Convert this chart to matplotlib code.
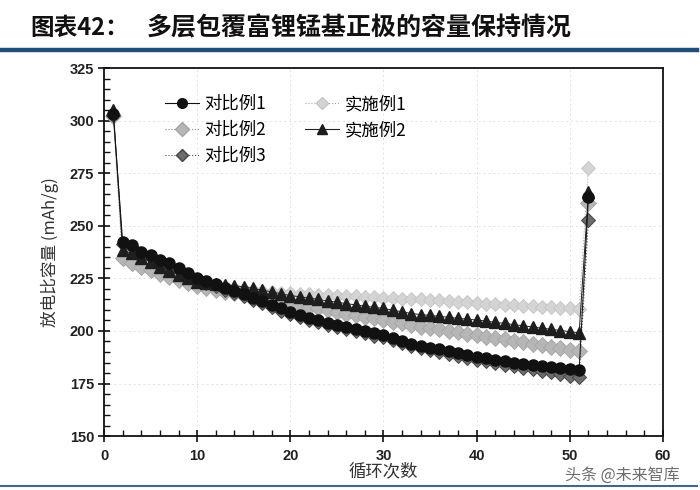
import matplotlib
matplotlib.use("Agg")
import matplotlib.pyplot as plt
from matplotlib.lines import Line2D
from matplotlib.ticker import MultipleLocator

plt.rcParams['font.family'] = ['Noto Sans CJK SC', 'DejaVu Sans']

cycles = list(range(1, 53))

db1 = [303, 242.4, 240.8, 237.6, 236.1, 233.7, 232.1, 229.8, 227.5, 225.1,
       223.8, 222.3, 220.6, 219.0, 217.4, 215.8, 214.2, 212.4, 210.7, 209.1,
       207.6, 206.4, 205.2, 204.0, 202.9, 201.8, 200.8, 199.8, 198.9, 198.0,
       196.7, 195.3, 194.0, 193.0, 192.1, 191.2, 190.3, 189.4, 188.5, 187.7,
       187.0, 186.3, 185.6, 185.0, 184.4, 183.8, 183.2, 182.7, 182.2, 181.8,
       181.4, 263.5]
db2 = [302, 234.5, 232.5, 230.5, 228.8, 227.2, 225.6, 224.2, 222.6, 221.2,
       220.3, 219.5, 218.7, 218.0, 217.3, 216.5, 215.6, 214.7, 213.8, 213.0,
       212.3, 211.5, 210.7, 209.9, 209.1, 208.3, 207.5, 206.7, 206.0, 205.2,
       204.4, 203.6, 202.8, 202.1, 201.4, 200.7, 200.0, 199.3, 198.6, 198.0,
       197.3, 196.6, 196.0, 195.3, 194.7, 194.0, 193.3, 192.6, 191.9, 191.1,
       190.4, 261]
db3 = [302.5, 241.5, 239.8, 236.8, 235.0, 232.8, 231.0, 228.8, 226.5, 224.2,
       222.8, 221.3, 219.6, 218.0, 216.4, 214.8, 213.1, 211.3, 209.6, 208.0,
       206.6, 205.4, 204.2, 203.0, 201.9, 200.8, 199.8, 198.8, 197.8, 196.9,
       195.6, 194.3, 193.0, 192.0, 191.0, 190.0, 189.0, 188.1, 187.2, 186.4,
       185.6, 184.8, 184.0, 183.3, 182.5, 181.8, 181.0, 180.3, 179.5, 178.7,
       177.9, 252.7]
ss1 = [303, 234.0, 232.0, 230.3, 228.9, 227.6, 226.4, 225.3, 224.3, 223.4,
       222.6, 221.9, 221.2, 220.6, 220.0, 219.5, 219.0, 218.6, 218.2, 217.9,
       217.6, 217.4, 217.2, 217.0, 216.8, 216.6, 216.4, 216.2, 216.0, 215.8,
       215.6, 215.4, 215.2, 215.0, 214.8, 214.5, 214.2, 213.9, 213.6, 213.3,
       213.0, 212.8, 212.5, 212.3, 212.0, 211.8, 211.5, 211.3, 211.0, 210.8,
       210.5, 277.5]
ss2 = [305, 238.4, 236.9, 234.6, 232.9, 230.5, 228.6, 226.8, 225.0, 223.4,
       222.9, 222.4, 221.9, 221.5, 221.0, 220.2, 219.4, 218.6, 217.7, 216.8,
       216.3, 215.6, 215.0, 214.3, 213.7, 213.0, 212.4, 211.8, 211.2, 210.7,
       209.9, 209.1, 208.3, 207.8, 207.4, 206.9, 206.5, 206.0, 205.6, 205.2,
       204.7, 204.1, 203.6, 203.0, 202.5, 201.9, 201.3, 200.8, 200.2, 199.7,
       199.1, 266]

names = ['对比例1', '对比例2', '对比例3', '实施例1', '实施例2']
title_prefix = '图表42：'
title_text = '多层包覆富锂锰基正极的容量保持情况'
xlabel = '循环次数'
ylabel = '放电比容量 (mAh/g)'
watermark = '头条 @未来智库'

fig = plt.figure(figsize=(7, 4.9), dpi=100)
ax = fig.add_axes([0.1486, 0.110, 0.7985, 0.751])

# series draw order (bottom -> top)
ax.plot(cycles, ss1, ls=':', lw=0.8, color='#aaaaaa', marker='D', ms=7.5,
        mfc='#d4d4d4', mec='#c4c4c4', mew=0.6, zorder=3, label=names[3])
ax.plot(cycles, db2, ls=':', lw=0.8, color='#888888', marker='D', ms=8.5,
        mfc='#b6b6b6', mec='#a4a4a4', mew=0.6, zorder=4, label=names[1])
ax.plot(cycles, db3, ls=':', lw=0.8, color='#555555', marker='D', ms=7.5,
        mfc='#6c6c6c', mec='#444444', mew=0.7, zorder=5, label=names[2])
ax.plot(cycles, ss2, ls='-', lw=0.7, color='#222222', marker='^', ms=8.5,
        mfc='#1e1e1e', mec='#1e1e1e', zorder=6, label=names[4])
ax.plot(cycles, db1, ls='-', lw=0.7, color='#111111', marker='o', ms=8,
        mfc='#111111', mec='#111111', zorder=7, label=names[0])

ax.set_xlim(0, 60)
ax.set_ylim(150, 325)
ax.xaxis.set_major_locator(MultipleLocator(10))
ax.xaxis.set_minor_locator(MultipleLocator(2))
ax.yaxis.set_major_locator(MultipleLocator(25))
ax.yaxis.set_minor_locator(MultipleLocator(5))
ax.tick_params(which='major', direction='inout', length=8, width=1.2, colors='#111111')
ax.tick_params(which='minor', direction='in', length=4, width=1.0, colors='#111111')
for lab in ax.get_xticklabels() + ax.get_yticklabels():
    lab.set_fontfamily('Liberation Sans')
    lab.set_fontweight('bold')
    lab.set_fontsize(10.5)
    lab.set_color('#222222')
ax.tick_params(axis='x', pad=5)
ax.tick_params(axis='y', pad=3)
for s in ax.spines.values():
    s.set_linewidth(1.3)
    s.set_color('#111111')
ax.grid(True, which='major', ls=(0, (2, 3)), lw=0.7, color='#e2e2e2', zorder=0)

ax.set_xlabel(xlabel, fontsize=12.5, color='#333333', labelpad=0,
              family=['Noto Sans CJK SC', 'DejaVu Sans'])
ax.set_ylabel(ylabel, fontsize=12, color='#333333', labelpad=8,
              family=['Noto Sans CJK SC', 'DejaVu Sans'])

handles = [
    Line2D([], [], ls='-', lw=0.8, color='#111111', marker='o', ms=7, mfc='#111111', mec='#111111'),
    Line2D([], [], ls=':', lw=0.8, color='#888888', marker='D', ms=7.5, mfc='#b6b6b6', mec='#a4a4a4'),
    Line2D([], [], ls=':', lw=0.8, color='#555555', marker='D', ms=6, mfc='#6c6c6c', mec='#444444'),
    Line2D([], [], ls=':', lw=0.8, color='#aaaaaa', marker='D', ms=6, mfc='#d4d4d4', mec='#c4c4c4'),
    Line2D([], [], ls='-', lw=0.8, color='#222222', marker='^', ms=7.5, mfc='#1e1e1e', mec='#1e1e1e'),
]
ax.legend(handles, [names[0], names[1], names[2], names[3], names[4]], ncol=2,
          frameon=False, loc='upper left', bbox_to_anchor=(0.09, 0.955),
          fontsize=12.5, handlelength=2.0, handletextpad=0.3, columnspacing=2.2,
          labelspacing=0.45, borderaxespad=0.2)

# title and decorative rules
fig.text(30 / 700, 1 - 28 / 490, title_prefix, fontsize=17, fontweight='bold',
         va='center', ha='left', color='#111111')
fig.text(147 / 700, 1 - 28 / 490, title_text, fontsize=18, fontweight='bold',
         va='center', ha='left', color='#111111')
fig.add_artist(Line2D([0, 0.995], [1 - 50 / 490, 1 - 50 / 490], lw=3.2, color='#1f4e79'))
fig.add_artist(Line2D([0, 0.995], [1 - 486 / 490, 1 - 486 / 490], lw=1.5, color='#3a6a94'))

fig.text(622 / 700, 1 - 475 / 490, watermark, fontsize=11.5, color='#555555',
         ha='center', va='center', alpha=0.85)

fig.savefig('out.png', dpi=100)
